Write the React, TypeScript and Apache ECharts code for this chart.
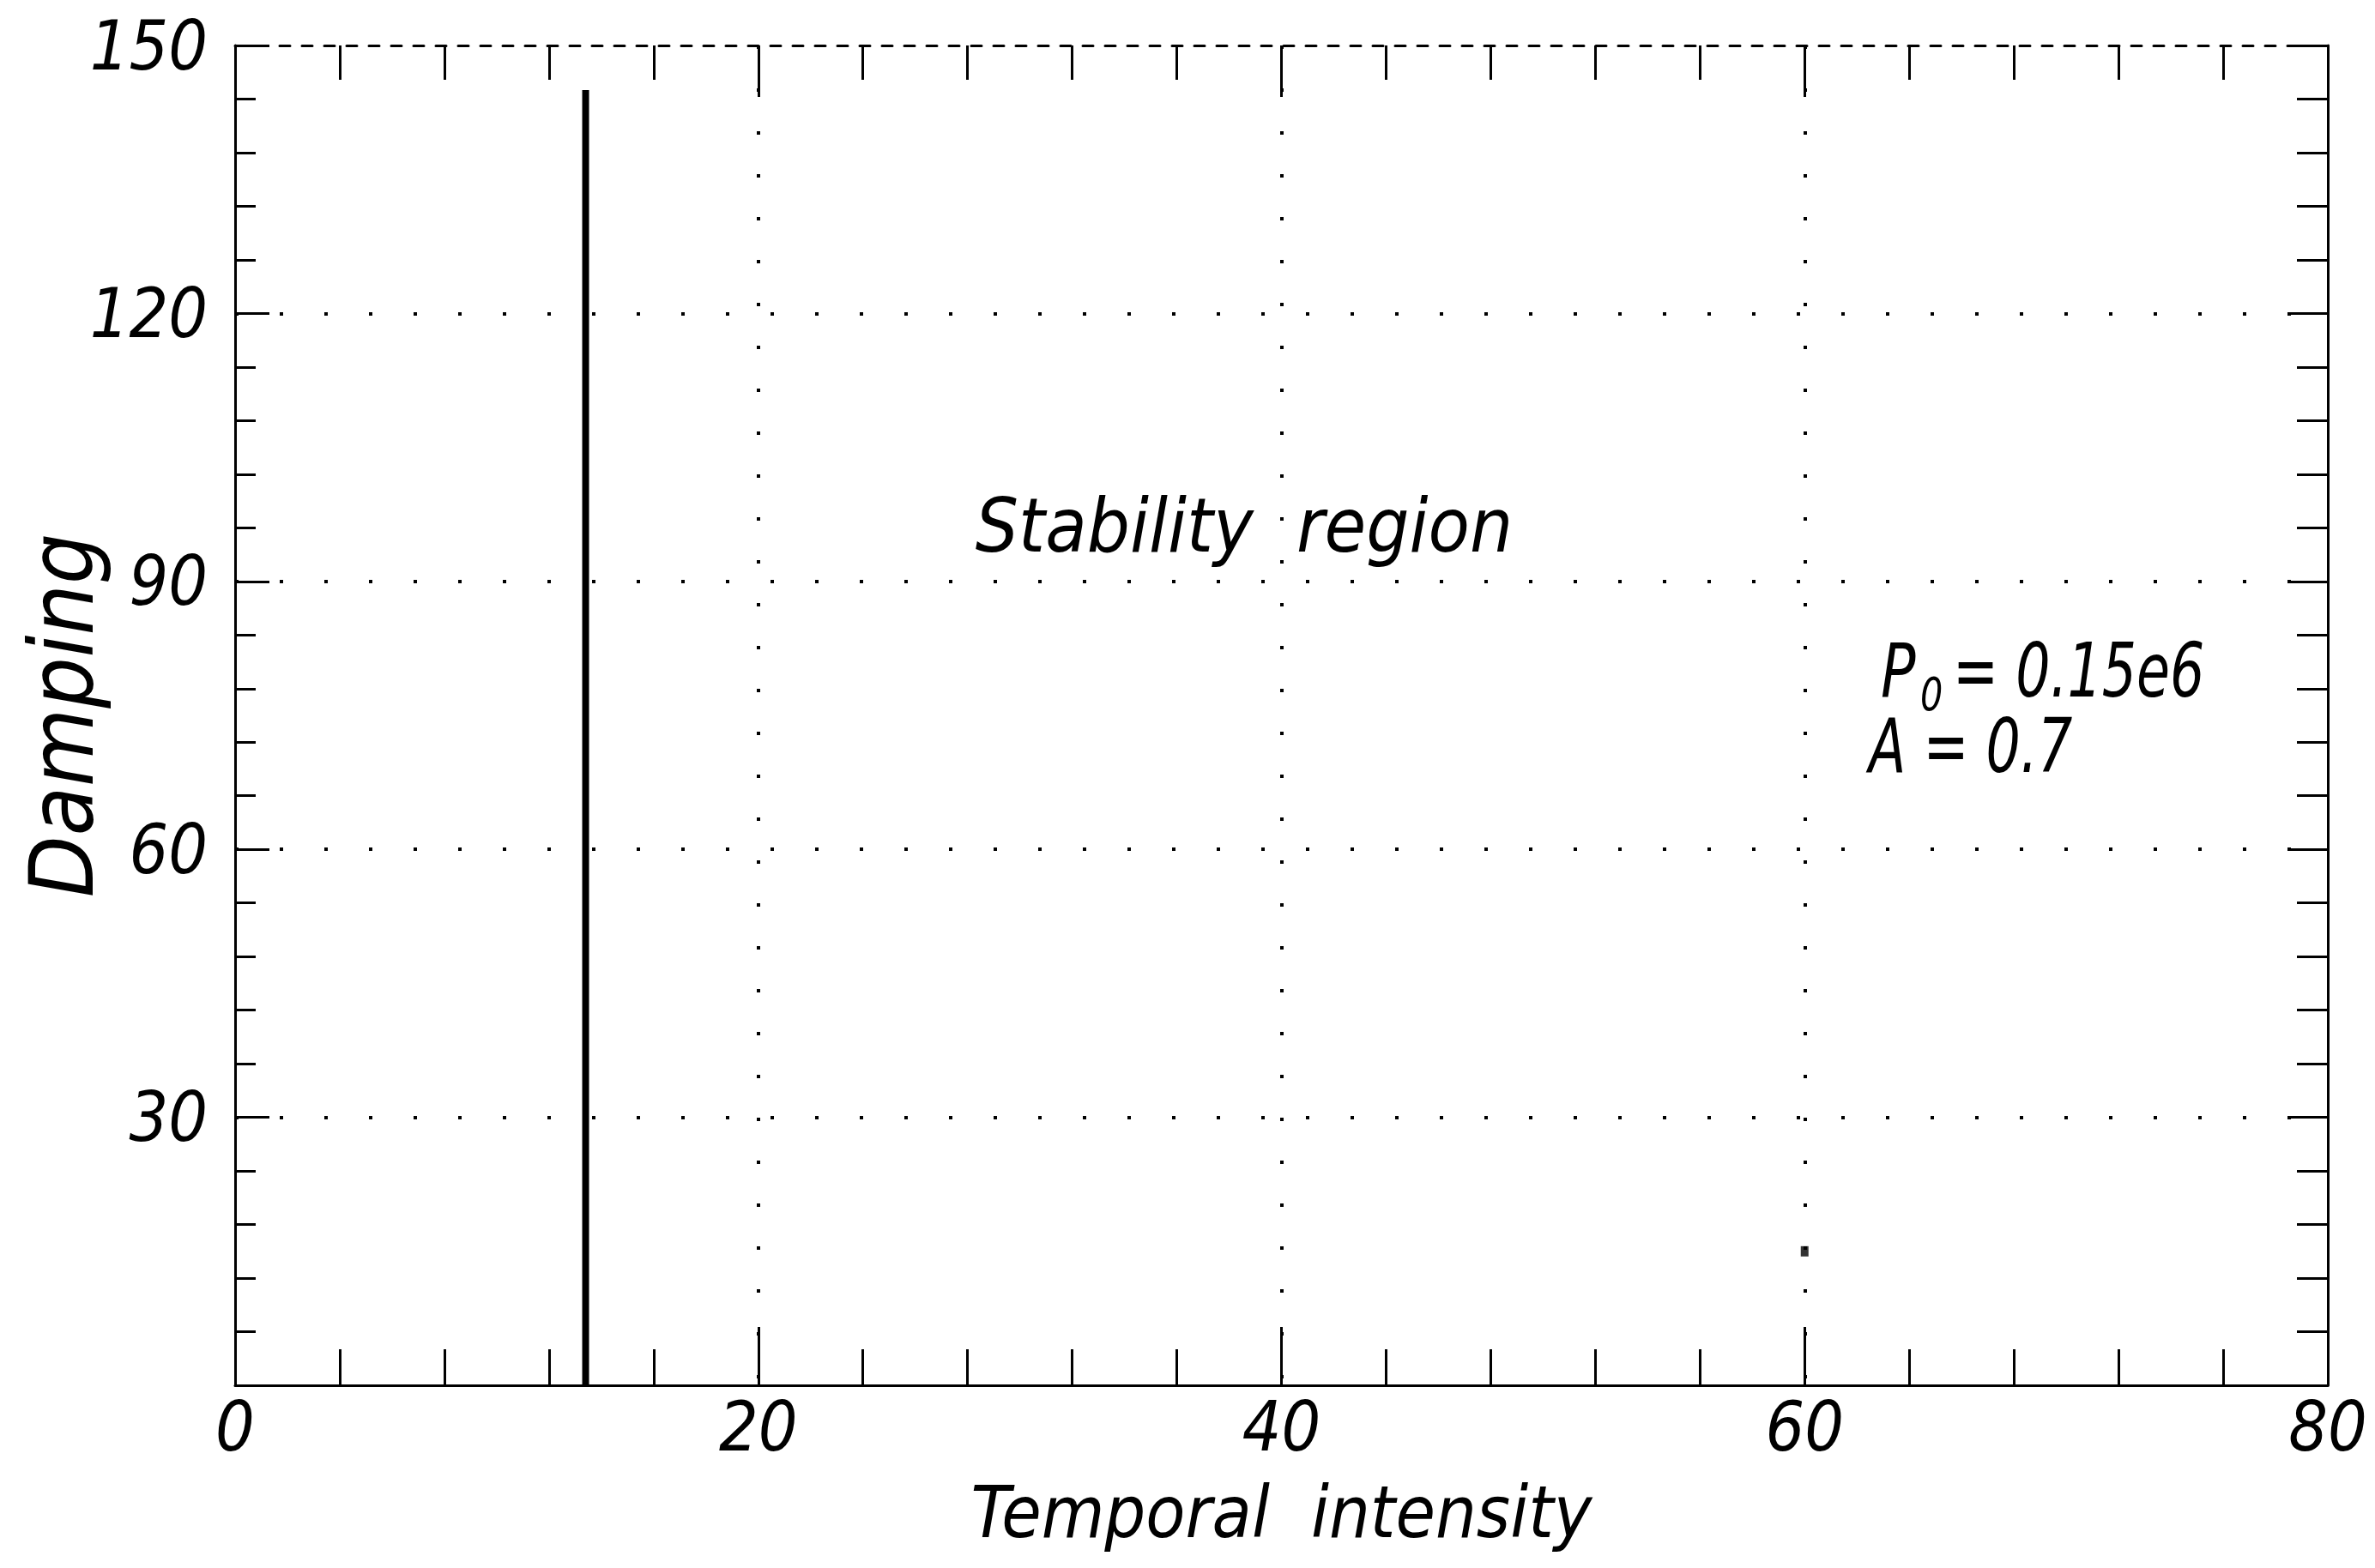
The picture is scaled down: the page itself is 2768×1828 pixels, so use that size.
import React, { useEffect, useRef } from "react";
import * as echarts from "echarts";

const FONT = "'DejaVu Sans Condensed', 'DejaVu Sans', sans-serif";

// axis ranges / tick labels
const xTickValues = [0, 20, 40, 60, 80];
const yTickValues = [0, 30, 60, 90, 120, 150];
const xTitle = "Temporal  intensity";
const yTitle = "Damping";

// stability boundary (vertical line)
const boundaryX = [13.4, 13.4];
const boundaryY = [0, 145];

// isolated marker
const markerX = [60];
const markerY = [15];

const regionLabel = "Stability  region";
const paramPSymbol = "P";
const paramPSub = "0";
const paramPValue = "= 0.15e6";
const paramA = "A = 0.7";

export default function App() {
  const ref = useRef<HTMLDivElement>(null);
  useEffect(() => {
    if (!ref.current) return;
    const chart = echarts.init(ref.current, null, { renderer: "svg" });
    const black = "#000";
    const labelStyle = {
      color: black,
      fontFamily: FONT,
      fontStyle: "italic" as const,
      fontSize: 80,
    };
    const xMin = xTickValues[0];
    const xMax = xTickValues[xTickValues.length - 1];
    const xInt = xTickValues[1] - xTickValues[0];
    const yMin = yTickValues[0];
    const yMax = yTickValues[yTickValues.length - 1];
    const yInt = yTickValues[1] - yTickValues[0];
    const tickLine = { color: black, width: 3 };
    const txt = (text: string, x: number, y: number, size: number, sx = 1) => ({
      type: "text",
      x,
      y,
      scaleX: sx,
      style: {
        text,
        fill: black,
        fontFamily: FONT,
        fontStyle: "italic",
        fontSize: size,
        align: "left",
        verticalAlign: "top",
      },
    });

    chart.setOption({
      animation: false,
      backgroundColor: "#fff",
      grid: { left: 274, right: 55, top: 53, bottom: 213, containLabel: false },
      xAxis: [
        {
          type: "value",
          position: "bottom",
          min: xMin,
          max: xMax,
          interval: xInt,
          axisLine: { show: true, onZero: false, lineStyle: { color: black, width: 3 } },
          axisTick: { show: true, inside: true, length: 68, lineStyle: tickLine },
          minorTick: { show: true, splitNumber: 5, length: 42, lineStyle: tickLine },
          splitLine: {
            show: true,
            showMinLine: false,
            showMaxLine: false,
            lineStyle: { color: black, width: 4, type: [4, 46] },
          },
          axisLabel: { ...labelStyle, margin: 8 },
          name: xTitle,
          nameLocation: "middle",
          nameMoveOverlap: false,
          nameGap: 106,
          nameTextStyle: { ...labelStyle, fontSize: 84 },
        },
        {
          type: "value",
          position: "top",
          min: xMin,
          max: xMax,
          interval: xInt,
          axisLine: { show: true, onZero: false, lineStyle: { color: black, width: 3, type: [12, 14] } },
          axisTick: { show: true, inside: true, length: 60, lineStyle: tickLine },
          minorTick: { show: true, splitNumber: 5, length: 40, lineStyle: tickLine },
          splitLine: { show: false },
          axisLabel: { show: false },
        },
      ],
      yAxis: [
        {
          type: "value",
          position: "left",
          min: yMin,
          max: yMax,
          interval: yInt,
          axisLine: { show: true, onZero: false, lineStyle: { color: black, width: 3 } },
          axisTick: { show: true, inside: true, length: 40, lineStyle: tickLine },
          minorTick: { show: true, splitNumber: 5, length: 24, lineStyle: tickLine },
          splitLine: {
            show: true,
            showMinLine: false,
            showMaxLine: false,
            lineStyle: { color: black, width: 4, type: [4, 48] },
          },
          axisLabel: {
            ...labelStyle,
            margin: 32,
            formatter: (v: number) => (v === yMin ? "" : String(v)),
          },
          name: yTitle,
          nameLocation: "middle",
          nameMoveOverlap: false,
          nameGap: 150,
          nameTextStyle: { ...labelStyle, fontSize: 104 },
        },
        {
          type: "value",
          position: "right",
          min: yMin,
          max: yMax,
          interval: yInt,
          axisLine: { show: true, onZero: false, lineStyle: { color: black, width: 3 } },
          axisTick: { show: true, inside: true, length: 46, lineStyle: tickLine },
          minorTick: { show: true, splitNumber: 5, length: 36, lineStyle: tickLine },
          splitLine: { show: false },
          axisLabel: { show: false },
        },
      ],
      series: [
        {
          type: "line",
          xAxisIndex: 0,
          yAxisIndex: 0,
          data: boundaryX.map((x, i) => [x, boundaryY[i]]),
          symbol: "none",
          lineStyle: { color: black, width: 8 },
        },
        {
          type: "scatter",
          xAxisIndex: 0,
          yAxisIndex: 0,
          data: markerX.map((x, i) => [x, markerY[i]]),
          symbol: "rect",
          symbolSize: [9, 12],
          itemStyle: { color: black },
        },
      ],
      graphic: [
        {
          type: "text",
          x: 1450,
          y: 612,
          style: {
            text: regionLabel,
            fill: black,
            fontFamily: FONT,
            fontStyle: "italic",
            fontSize: 88,
            align: "center",
            verticalAlign: "middle",
          },
        },
        txt(paramPSymbol, 2192, 738, 88, 0.85),
        txt(paramPSub, 2238, 782, 54, 0.85),
        txt(paramPValue, 2276, 738, 88, 0.8),
        txt(paramA, 2178, 826, 88, 0.8),
      ],
    });
    return () => chart.dispose();
  }, []);
  return (
    <div
      ref={ref}
      style={{ position: "fixed", left: 0, top: 0, width: 2768, height: 1828, background: "#fff" }}
    />
  );
}
